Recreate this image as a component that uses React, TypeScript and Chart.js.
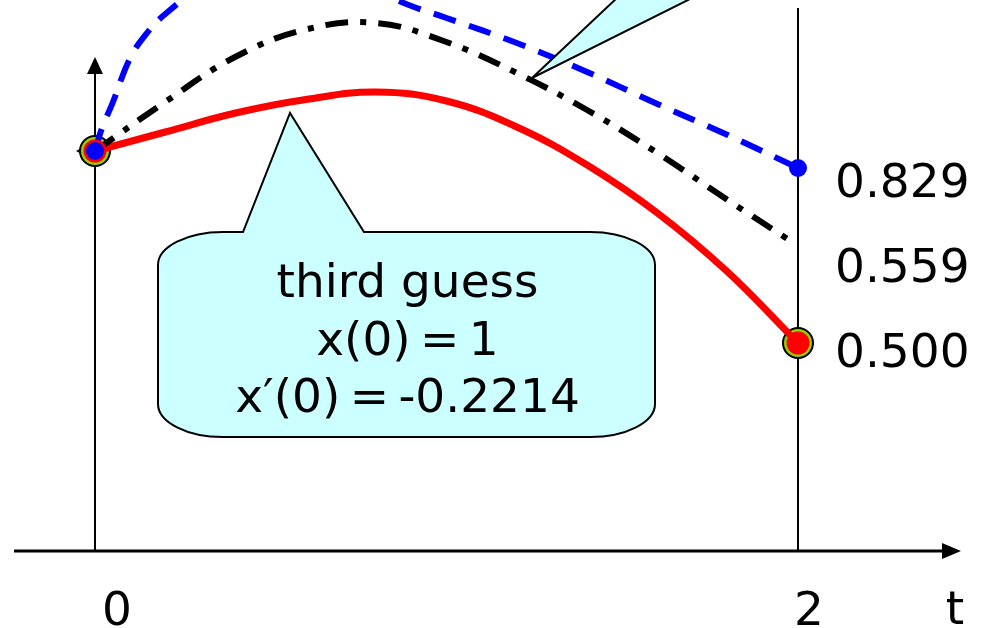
import React, { useEffect, useRef } from "react";
import { Chart, registerables } from "chart.js";

Chart.register(...registerables);

// ---- data (t on horizontal axis, x(t) on vertical axis; schematic units) ----
const redT = [0, 0.2, 0.4, 0.6, 0.8, 1.0, 1.2, 1.4, 1.6, 1.8, 2.0];
const redX = [1.0, 1.0475, 1.095, 1.1288, 1.1475, 1.125, 1.06, 0.965, 0.845, 0.6975, 0.52];

const blackT = [0, 0.2, 0.4, 0.6, 0.8, 1.0, 1.2, 1.4, 1.6, 1.8, 1.975];
const blackX = [1.0, 1.1228, 1.2356, 1.3038, 1.32, 1.2725, 1.195, 1.1025, 0.995, 0.8775, 0.7775];

const blueT = [0, 0.02, 0.05, 0.1, 0.15, 0.2, 0.3, 0.4, 0.6, 0.8, 0.9, 1.0, 1.2, 1.4, 1.6, 1.8, 2.0];
const blueX = [1.0, 1.0575, 1.12, 1.2325, 1.2975, 1.3425, 1.4075, 1.44, 1.4525, 1.3975, 1.3625, 1.3325, 1.27, 1.1975, 1.1175, 1.04, 0.9575];

const endLabels = ["0.829", "0.559", "0.500"];
const tickLabels = ["0", "2"];
const tickValues = [0, 2];
const axisTitle = "t";
const calloutLines = ["third guess", "x(0)\u2009=\u20091", "x\u2032(0)\u2009=\u2009-0.2214"];

const FONT = '47px "DejaVu Sans"';

const pts = (t: number[], v: number[]) => t.map((x, i) => ({ x, y: v[i] }));

const overlayPlugin = {
  id: "overlay",
  beforeDatasetsDraw(chart: any) {
    const ctx = chart.ctx as CanvasRenderingContext2D;
    const xs = chart.scales.x;
    const ys = chart.scales.y;
    const px0 = xs.getPixelForValue(0);
    const px2 = xs.getPixelForValue(2);
    const py0 = ys.getPixelForValue(0);
    ctx.save();
    ctx.strokeStyle = "#000";
    ctx.fillStyle = "#000";
    // horizontal t axis
    ctx.lineWidth = 3;
    ctx.beginPath();
    ctx.moveTo(14, py0);
    ctx.lineTo(945, py0);
    ctx.stroke();
    ctx.beginPath();
    ctx.moveTo(961, py0);
    ctx.lineTo(942, py0 - 8);
    ctx.lineTo(942, py0 + 8);
    ctx.closePath();
    ctx.fill();
    // vertical axis at t=0
    ctx.lineWidth = 2;
    ctx.beginPath();
    ctx.moveTo(px0, py0);
    ctx.lineTo(px0, 70);
    ctx.stroke();
    ctx.beginPath();
    ctx.moveTo(px0, 57);
    ctx.lineTo(px0 - 8, 74);
    ctx.lineTo(px0 + 8, 74);
    ctx.closePath();
    ctx.fill();
    // vertical line at t=2
    ctx.beginPath();
    ctx.moveTo(px2, py0);
    ctx.lineTo(px2, 8);
    ctx.stroke();
    // small arrowhead left of start point
    const sy = ys.getPixelForValue(redX[0]);
    ctx.beginPath();
    ctx.moveTo(px0 - 19, sy);
    ctx.lineTo(px0 - 8, sy - 6);
    ctx.lineTo(px0 - 8, sy + 6);
    ctx.closePath();
    ctx.fill();

    // tick labels
    ctx.font = FONT;
    ctx.textAlign = "center";
    ctx.textBaseline = "alphabetic";
    tickValues.forEach((v, i) => {
      ctx.fillText(tickLabels[i], xs.getPixelForValue(v) + (i === 0 ? 22 : 11), 625);
    });
    ctx.fillText(axisTitle, 955, 624);
    ctx.restore();
  },
  afterDatasetsDraw(chart: any) {
    const ctx = chart.ctx as CanvasRenderingContext2D;
    const xs = chart.scales.x;
    const ys = chart.scales.y;
    ctx.save();
    ctx.fillStyle = "#ccffff";
    ctx.strokeStyle = "#000";
    ctx.lineWidth = 2;
    ctx.lineJoin = "miter";

    // main callout bubble
    const L = 158, R = 655, T = 232, B = 437, rx = 65, ry = 33;
    ctx.beginPath();
    ctx.moveTo(L + rx, T);
    ctx.lineTo(243, T);
    ctx.lineTo(290, 113);
    ctx.lineTo(364, T);
    ctx.lineTo(R - rx, T);
    ctx.ellipse(R - rx, T + ry, rx, ry, 0, -Math.PI / 2, 0);
    ctx.lineTo(R, B - ry);
    ctx.ellipse(R - rx, B - ry, rx, ry, 0, 0, Math.PI / 2);
    ctx.lineTo(L + rx, B);
    ctx.ellipse(L + rx, B - ry, rx, ry, 0, Math.PI / 2, Math.PI);
    ctx.lineTo(L, T + ry);
    ctx.ellipse(L + rx, T + ry, rx, ry, 0, Math.PI, Math.PI * 1.5);
    ctx.closePath();
    ctx.fill();
    ctx.stroke();

    // pointer of the callout above the plot
    ctx.beginPath();
    ctx.moveTo(532, 78);
    ctx.lineTo(636, -20);
    ctx.lineTo(728, -20);
    ctx.closePath();
    ctx.fill();
    ctx.stroke();

    // callout text
    ctx.fillStyle = "#000";
    ctx.font = FONT;
    ctx.textAlign = "center";
    ctx.textBaseline = "alphabetic";
    const cx = (L + R) / 2 + 1;
    const baselines = [297, 355, 412];
    calloutLines.forEach((s, i) => ctx.fillText(s, cx, baselines[i]));

    // end value labels
    ctx.textAlign = "left";
    const lx = xs.getPixelForValue(2) + 37;
    const ends = [blueX[blueX.length - 1], blackX[blackX.length - 1], redX[redX.length - 1]];
    const offsets = [29, 42, 24];
    endLabels.forEach((s, i) => ctx.fillText(s, lx, ys.getPixelForValue(ends[i]) + offsets[i]));
    ctx.restore();
  },
};

export default function App() {
  const ref = useRef<HTMLCanvasElement | null>(null);
  useEffect(() => {
    if (!ref.current) return;
    const startEnd = (t: number[], v: number[]) => [
      { x: t[0], y: v[0] },
      { x: t[t.length - 1], y: v[v.length - 1] },
    ];
    const chart = new Chart(ref.current, {
      type: "line",
      data: {
        datasets: [
          {
            label: "blue dots",
            data: startEnd(blueT, blueX),
            showLine: false,
            pointRadius: 9,
            pointBackgroundColor: "#0000ff",
            pointBorderWidth: 0,
            order: 0,
          },
          {
            label: "red dots",
            data: startEnd(redT, redX),
            showLine: false,
            pointRadius: 11.5,
            pointBackgroundColor: "#ff0000",
            pointBorderWidth: 0,
            order: 1,
          },
          {
            label: "blue guess",
            data: pts(blueT, blueX),
            borderColor: "#0000ff",
            borderWidth: 6,
            borderDash: [23, 14],
            borderCapStyle: "butt",
            pointRadius: 0,
            tension: 0.4,
            order: 2,
          },
          {
            label: "black guess",
            data: pts(blackT, blackX),
            borderColor: "#000000",
            borderWidth: 6,
            borderDash: [23, 12, 6, 12],
            borderCapStyle: "butt",
            pointRadius: 0,
            tension: 0.4,
            order: 3,
          },
          {
            label: "red guess",
            data: pts(redT, redX),
            borderColor: "#ff0000",
            borderWidth: 7,
            pointRadius: 0,
            tension: 0.4,
            order: 4,
          },
          {
            label: "rings",
            data: startEnd(redT, redX),
            showLine: false,
            pointRadius: 15,
            pointBackgroundColor: "#99cc00",
            pointBorderColor: "#000000",
            pointBorderWidth: 2,
            order: 5,
          },
        ],
      },
      options: {
        animation: false,
        responsive: false,
        devicePixelRatio: 1,
        layout: { padding: 0, autoPadding: false },
        events: [],
        plugins: { legend: { display: false }, tooltip: { enabled: false } },
        scales: {
          x: { type: "linear", min: -0.27027, max: 2.52632, display: false },
          y: { type: "linear", min: -0.1925, max: 1.3775, display: false },
        },
      },
      plugins: [overlayPlugin],
    } as any);
    return () => chart.destroy();
  }, []);
  return (
    <div style={{ position: "fixed", left: 0, top: 0, width: 983, height: 628, background: "#fff" }}>
      <canvas ref={ref} width={983} height={628} style={{ display: "block" }} />
    </div>
  );
}
